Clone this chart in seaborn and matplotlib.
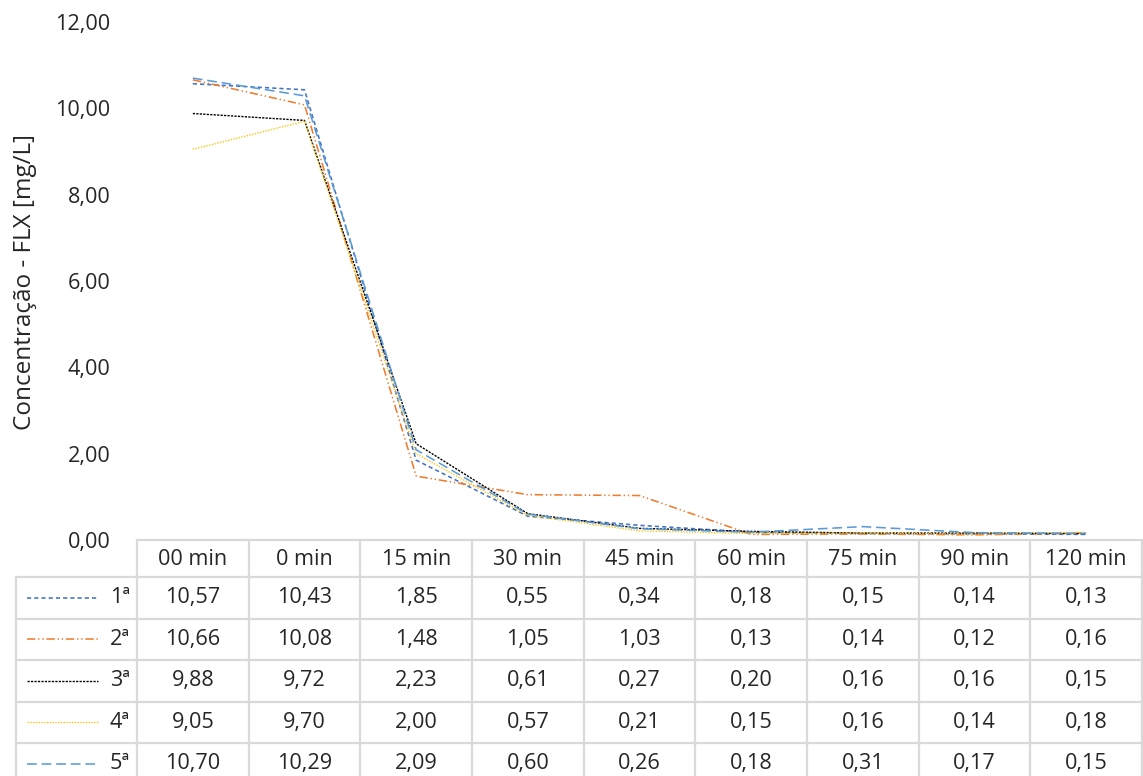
import numpy as np
import pandas as pd
import matplotlib
matplotlib.use("Agg")
import matplotlib.pyplot as plt
import seaborn as sns

# Sampling times and FLX concentration (mg/L) for each run
times = ["00 min", "0 min", "15 min", "30 min", "45 min", "60 min", "75 min", "90 min", "120 min"]
run_labels = ["1ª", "2ª", "3ª", "4ª", "5ª"]
run1 = [10.57, 10.43, 1.85, 0.55, 0.34, 0.18, 0.15, 0.14, 0.13]
run2 = [10.66, 10.08, 1.48, 1.05, 1.03, 0.13, 0.14, 0.12, 0.16]
run3 = [9.88, 9.72, 2.23, 0.61, 0.27, 0.20, 0.16, 0.16, 0.15]
run4 = [9.05, 9.70, 2.00, 0.57, 0.21, 0.15, 0.16, 0.14, 0.18]
run5 = [10.70, 10.29, 2.09, 0.60, 0.26, 0.18, 0.31, 0.17, 0.15]
runs = [run1, run2, run3, run4, run5]
y_ticks = [0, 2, 4, 6, 8, 10, 12]

colors = ["#4472C4", "#ED7D31", "#000000", "#FFC000", "#5B9BD5"]
dashes = [(0, (3, 2.2)), (0, (6, 2, 1, 2, 1, 2)), (0, (1.6, 0.9)), (0, (1, 1)), (0, (7, 3.5))]
widths = [1.15, 1.15, 1.0, 0.9, 1.15]

sns.set_theme(style="white")
plt.rcParams["font.family"] = ["Open Sans", "DejaVu Sans"]
plt.rcParams["lines.scale_dashes"] = False

W, H = 1143, 776
fig = plt.figure(figsize=(W / 100, H / 100), dpi=100)

# plot area geometry in pixels
x0, x1 = 137, 1142
y_top, y_zero = 22, 540
ax = fig.add_axes([x0 / W, (H - y_zero) / H, (x1 - x0) / W, (y_zero - y_top) / H])

fs = 15.6
text_color = "#262626"

xs = np.arange(len(times))
for lab, vals, c, d, lw in zip(run_labels, runs, colors, dashes, widths):
    df = pd.DataFrame({"t": xs, "c": vals})
    sns.lineplot(data=df, x="t", y="c", ax=ax, color=c, linewidth=lw,
                 linestyle=d, legend=False)

ax.set_xlim(-0.5, len(times) - 0.5)
ax.set_ylim(0, 12)
ax.set_yticks(y_ticks)
ax.set_yticklabels([f"{v:.2f}".replace(".", ",") for v in y_ticks], fontsize=fs, color=text_color)
ax.tick_params(axis="y", length=0, pad=19)
ax.set_xticks([])
ax.set_xlabel("")
ax.set_ylabel("")
for s in ax.spines.values():
    s.set_visible(False)
ax.patch.set_alpha(0)

fig.text(25 / W, 1 - 282 / H, "Concentração - FLX [mg/L]", rotation=90,
         ha="center", va="center", fontsize=17.5, color=text_color)

# data table with legend keys underneath the plot
tab = fig.add_axes([0, 0, 1, 1])
tab.set_xlim(0, W)
tab.set_ylim(H, 0)
tab.axis("off")
tab.patch.set_alpha(0)

grid_c = "#D9D9D9"
glw = 1.6
col_w = (x1 - x0) / len(times)
header_top, header_bot = 540, 577
row_lines = [577, 618.5, 660, 701.5, 743]
row_h = 41.5
legend_left = 16

# horizontal rules
tab.plot([x0, x1], [header_top, header_top], color=grid_c, lw=glw)
for yl in row_lines:
    tab.plot([legend_left, x1], [yl, yl], color=grid_c, lw=glw)
# vertical rules
for i in range(len(times) + 1):
    xv = x0 + i * col_w
    tab.plot([xv, xv], [header_top, H + 5], color=grid_c, lw=glw)
tab.plot([legend_left, legend_left], [header_bot, H + 5], color=grid_c, lw=glw)

# header
for i, t in enumerate(times):
    tab.text(x0 + (i + 0.5) * col_w, (header_top + header_bot) / 2 + 1, t,
             ha="center", va="center", fontsize=fs, color=text_color)

# rows
for r, (lab, vals, c, d, lw) in enumerate(zip(run_labels, runs, colors, dashes, widths)):
    yc = row_lines[r] + row_h / 2
    tab.plot([27, 98], [yc, yc], color=c, lw=lw, linestyle=d)
    tab.text(130, yc, lab, ha="right", va="center", fontsize=fs, color=text_color)
    for i, v in enumerate(vals):
        tab.text(x0 + (i + 0.5) * col_w, yc, f"{v:.2f}".replace(".", ","),
                 ha="center", va="center", fontsize=fs, color=text_color)

fig.savefig("out.png", dpi=100, facecolor="white")
